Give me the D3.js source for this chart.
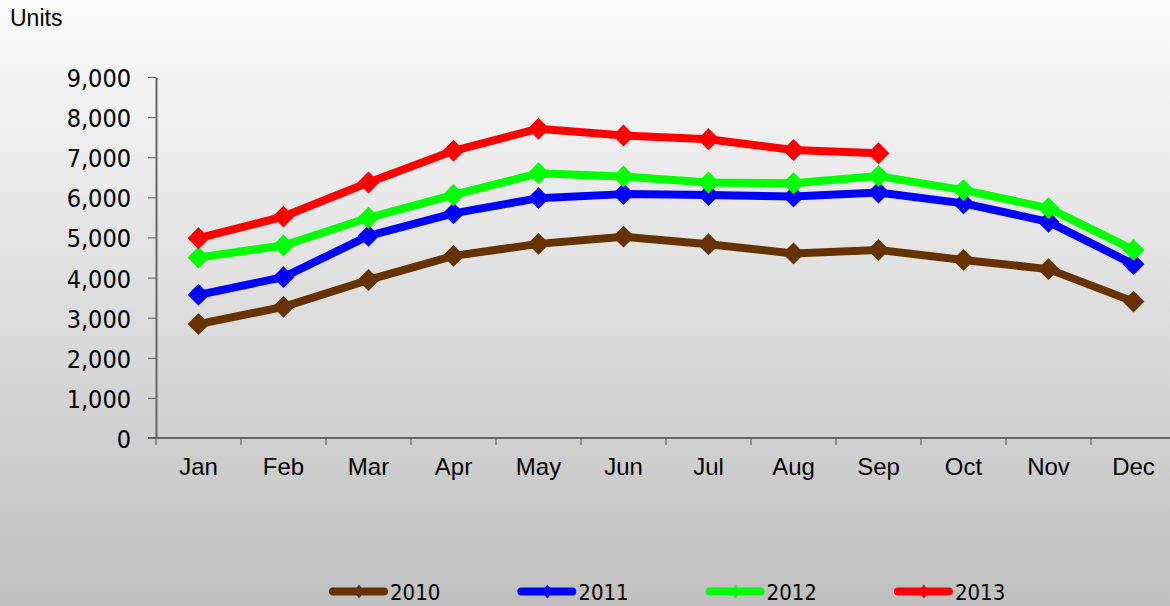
<!DOCTYPE html>
<html>
<head>
<meta charset="utf-8">
<script src="https://cdn.jsdelivr.net/npm/d3@7"></script>
<style>
  html, body { margin: 0; padding: 0; }
  svg { display: block; }
</style>
</head>
<body>
<svg width="1170" height="606"></svg>
<script>
// data
var months = ["Jan", "Feb", "Mar", "Apr", "May", "Jun", "Jul", "Aug", "Sep", "Oct", "Nov", "Dec"];
var years = ["2010", "2011", "2012", "2013"];
var strokes = ["#663300", "#0000ff", "#00ff00", "#ff0000"];
var units2010 = [2840, 3270, 3940, 4540, 4840, 5020, 4830, 4600, 4690, 4440, 4210, 3400];
var units2011 = [3570, 4010, 5040, 5600, 5980, 6080, 6060, 6020, 6120, 5850, 5390, 4330];
var units2012 = [4500, 4800, 5490, 6060, 6600, 6520, 6370, 6350, 6530, 6180, 5730, 4690];
var units2013 = [4980, 5520, 6370, 7160, 7710, 7540, 7450, 7180, 7100];
var yTicks = [0, 1000, 2000, 3000, 4000, 5000, 6000, 7000, 8000, 9000];

var series = [units2010, units2011, units2012, units2013];

var margin = { top: 77, right: -6, bottom: 168, left: 156 };
var W = 1170, H = 606;
var width = W - margin.left - margin.right;
var height = H - margin.top - margin.bottom;

var svg = d3.select("svg");

// background gradient
var defs = svg.append("defs");
var grad = defs.append("linearGradient")
    .attr("id", "bg").attr("x1", 0).attr("y1", 0).attr("x2", 0).attr("y2", 1);
grad.append("stop").attr("offset", "0%").attr("stop-color", "#fcfcfc");
grad.append("stop").attr("offset", "100%").attr("stop-color", "#bfbfbf");
svg.append("rect").attr("width", W).attr("height", H).attr("fill", "url(#bg)");

svg.append("text")
    .attr("x", 10).attr("y", 26)
    .style("font-family", "Liberation Sans, Arial, sans-serif")
    .style("font-size", "23px")
    .text("Units");

var g = svg.append("g")
    .attr("transform", "translate(" + margin.left + "," + margin.top + ")");

var x = d3.scaleBand().domain(months).range([0, width]);
var y = d3.scaleLinear().domain([0, 9000]).range([height, 0]);

// axes
var yAxis = g.append("g")
    .call(d3.axisLeft(y).tickValues(yTicks).tickSize(8).tickSizeOuter(0)
        .tickFormat(d3.format(",")));
yAxis.selectAll("text")
    .attr("x", -25)
    .attr("dy", "0.38em")
    .style("font-family", "DejaVu Sans Condensed, DejaVu Sans, sans-serif")
    .style("font-size", "25px")
    .attr("fill", "#000");

var xAxis = g.append("g")
    .attr("transform", "translate(0," + height + ")")
    .call(d3.axisBottom(x).tickSize(0).tickSizeOuter(0));
xAxis.selectAll("text")
    .attr("dy", 0)
    .attr("y", 37)
    .style("font-family", "Liberation Sans, Arial, sans-serif")
    .style("font-size", "24px")
    .attr("fill", "#000");
xAxis.selectAll(".sep").data(months).enter().append("line")
    .attr("x1", function (d) { return x(d); })
    .attr("x2", function (d) { return x(d); })
    .attr("y1", 0).attr("y2", 7)
    .attr("stroke", "#555");
[yAxis, xAxis].forEach(function (a) {
    a.selectAll("path.domain").attr("stroke", "#666").attr("stroke-width", 2);
    a.selectAll(".tick line").attr("stroke", "#555");
});
xAxis.select("path.domain").attr("d", "M-8,0H" + width);

// lines and diamond markers
var line = d3.line()
    .x(function (d, i) { return x(months[i]) + x.bandwidth() / 2; })
    .y(function (d) { return y(d); });

series.forEach(function (vals, s) {
    g.append("path")
        .datum(vals)
        .attr("fill", "none")
        .attr("stroke", strokes[s])
        .attr("stroke-width", 8)
        .attr("stroke-linejoin", "round")
        .attr("d", line);
    g.selectAll(".m" + s).data(vals).enter().append("path")
        .attr("transform", function (d, i) {
            return "translate(" + (x(months[i]) + x.bandwidth() / 2) + "," + y(d) + ") rotate(45)";
        })
        .attr("d", d3.symbol().type(d3.symbolSquare).size(240))
        .attr("fill", strokes[s]);
});

// legend
var legend = svg.append("g").attr("transform", "translate(329,591.5)");
years.forEach(function (yr, i) {
    var lg = legend.append("g").attr("transform", "translate(" + (i * 188.3) + ",0)");
    lg.append("line")
        .attr("x1", 4).attr("x2", 55)
        .attr("stroke", strokes[i]).attr("stroke-width", 8)
        .attr("stroke-linecap", "round");
    lg.append("path")
        .attr("transform", "translate(30,0) scale(0.75,1) rotate(45)")
        .attr("d", d3.symbol().type(d3.symbolSquare).size(100))
        .attr("fill", strokes[i]);
    lg.append("text")
        .attr("x", 61).attr("y", 8)
        .style("font-family", "DejaVu Sans Condensed, DejaVu Sans, sans-serif")
        .style("font-size", "22px")
        .text(yr);
});
</script>
</body>
</html>
